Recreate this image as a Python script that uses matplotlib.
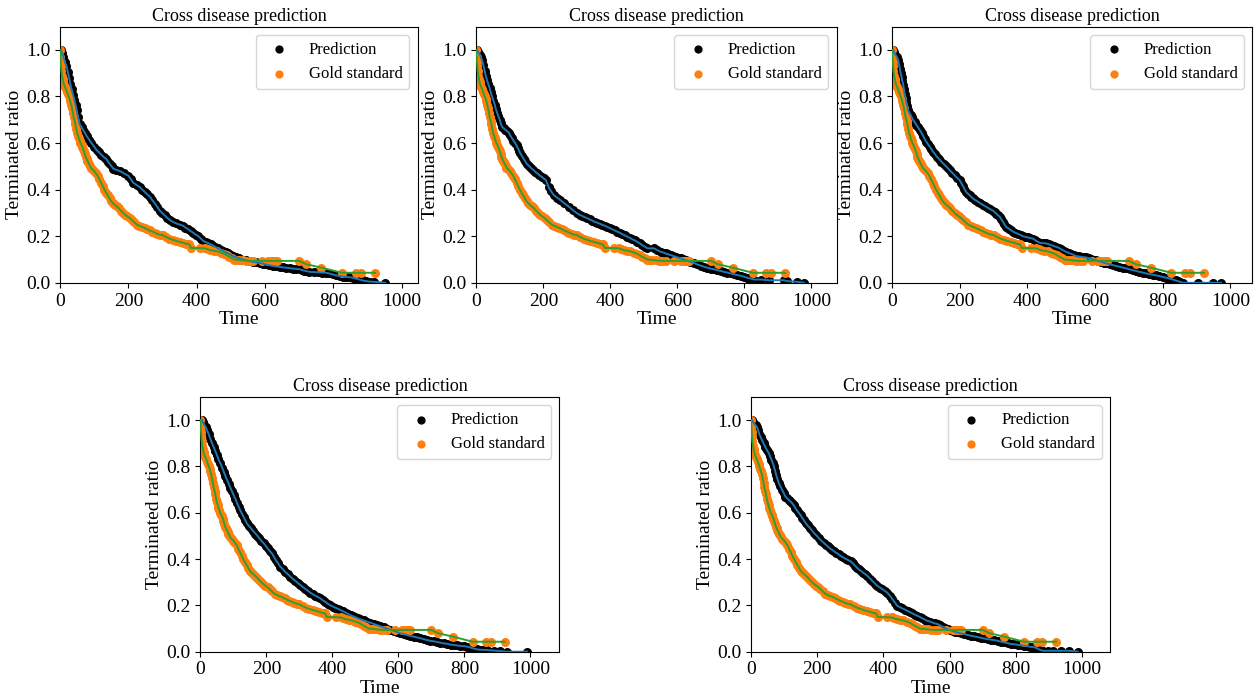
import matplotlib
matplotlib.use("Agg")
import matplotlib.pyplot as plt

plt.rcParams['font.family'] = ['Liberation Serif', 'DejaVu Serif']
plt.rcParams['font.size'] = 13

# gold standard curve (same for every held-out run)
gold_t = [0, 1, 2, 3, 4, 6, 8, 10, 12, 15, 18, 20, 23, 25, 28, 30, 33, 35, 38, 40, 43,
          45, 48, 50, 53, 55, 58, 60, 63, 65, 68, 70, 73, 75, 78, 80, 83, 85, 88, 90,
          95, 100, 105, 110, 115, 120, 125, 130, 135, 140, 145, 150, 155, 160, 166, 172,
          178, 185, 191, 197, 204, 210, 217, 225, 232, 240, 248, 255, 262, 270, 278,
          285, 292, 300, 310, 320, 330, 340, 350, 360, 369, 378, 383, 410, 425, 433,
          440, 450, 460, 470, 480, 488, 495, 503, 510, 518, 525, 535, 545, 555, 565,
          590, 610, 620, 625, 630, 635, 700, 720, 765, 825, 865, 880, 922]
gold_y = [1.0, 0.97, 0.95, 0.93, 0.91, 0.89, 0.875, 0.86, 0.85, 0.84, 0.83, 0.82, 0.81,
          0.80, 0.79, 0.78, 0.765, 0.75, 0.73, 0.71, 0.695, 0.68, 0.66, 0.645, 0.632,
          0.62, 0.61, 0.60, 0.592, 0.585, 0.575, 0.565, 0.552, 0.54, 0.532, 0.525,
          0.517, 0.51, 0.502, 0.495, 0.487, 0.48, 0.47, 0.46, 0.445, 0.43, 0.415, 0.40,
          0.387, 0.375, 0.362, 0.35, 0.342, 0.335, 0.328, 0.32, 0.31, 0.30, 0.292,
          0.285, 0.278, 0.27, 0.26, 0.25, 0.245, 0.24, 0.235, 0.23, 0.225, 0.22, 0.215,
          0.21, 0.207, 0.205, 0.197, 0.19, 0.185, 0.18, 0.176, 0.172, 0.168, 0.165,
          0.15, 0.149, 0.148, 0.144, 0.14, 0.138, 0.135, 0.13, 0.125, 0.118, 0.112,
          0.106, 0.10, 0.099, 0.098, 0.096, 0.095, 0.094, 0.094, 0.094, 0.094, 0.094,
          0.094, 0.094, 0.094, 0.094, 0.08, 0.065, 0.043, 0.043, 0.043, 0.043]

# predicted curves, one per run
pred_t1 = [3, 6, 10, 14, 19, 23, 27, 30, 34, 38, 42, 46, 49, 53, 58, 63, 68, 73, 78, 85,
           92, 100, 107, 114, 121, 128, 136, 141, 146, 151, 156, 165, 175, 187, 200, 207,
           214, 224, 234, 241, 248, 255, 263, 270, 278, 285, 292, 299, 306, 313, 321,
           330, 340, 350, 360, 367, 375, 382, 390, 397, 405, 412, 419, 426, 434, 441,
           448, 455, 462, 470, 477, 485, 492, 499, 506, 515, 525, 535, 545, 555, 565,
           575, 584, 594, 603, 613, 623, 633, 643, 652, 662, 672, 682, 691, 701, 708,
           715, 722, 730, 743, 755, 767, 779, 788, 798, 808, 818, 828, 838, 847, 857,
           866, 876, 886, 896, 908, 920, 952]
pred_y1 = [1.0, 0.985, 0.97, 0.95, 0.93, 0.905, 0.88, 0.855, 0.83, 0.808, 0.785, 0.762,
           0.74, 0.71, 0.68, 0.668, 0.655, 0.643, 0.63, 0.615, 0.60, 0.585, 0.57, 0.56,
           0.55, 0.54, 0.53, 0.52, 0.51, 0.50, 0.49, 0.485, 0.48, 0.47, 0.46, 0.445,
           0.43, 0.42, 0.41, 0.40, 0.39, 0.38, 0.37, 0.355, 0.34, 0.325, 0.31, 0.30,
           0.29, 0.28, 0.27, 0.262, 0.255, 0.25, 0.245, 0.237, 0.23, 0.222, 0.215,
           0.207, 0.20, 0.19, 0.18, 0.175, 0.17, 0.165, 0.16, 0.154, 0.148, 0.142,
           0.137, 0.131, 0.126, 0.12, 0.115, 0.11, 0.105, 0.1, 0.096, 0.093, 0.09,
           0.088, 0.086, 0.082, 0.079, 0.075, 0.072, 0.07, 0.068, 0.066, 0.065, 0.063,
           0.061, 0.06, 0.058, 0.055, 0.052, 0.05, 0.047, 0.046, 0.045, 0.044, 0.043,
           0.04, 0.036, 0.032, 0.029, 0.027, 0.025, 0.024, 0.022, 0.018, 0.014, 0.01,
           0.007, 0.005, 0.004, 0.0]

pred_t2 = [2, 6, 10, 13, 17, 21, 25, 28, 32, 36, 40, 43, 47, 51, 55, 58, 62, 66, 70, 73,
           77, 82, 87, 92, 97, 101, 106, 111, 116, 120, 124, 128, 131, 136, 141, 146,
           151, 157, 163, 170, 176, 182, 188, 195, 201, 208, 216, 223, 231, 241, 251,
           263, 276, 288, 301, 308, 316, 323, 331, 338, 346, 353, 361, 368, 376, 383,
           391, 398, 405, 413, 420, 428, 435, 443, 450, 458, 465, 473, 480, 488, 495,
           503, 510, 530, 540, 550, 558, 565, 573, 580, 588, 595, 603, 610, 618, 625,
           632, 639, 649, 659, 669, 679, 689, 699, 709, 719, 729, 739, 749, 759, 769,
           779, 789, 799, 807, 814, 822, 829, 849, 873, 918, 928, 958, 978]
pred_y2 = [1.0, 0.99, 0.98, 0.97, 0.957, 0.935, 0.91, 0.89, 0.87, 0.852, 0.835, 0.818,
           0.80, 0.782, 0.765, 0.748, 0.73, 0.715, 0.70, 0.685, 0.67, 0.663, 0.657,
           0.651, 0.645, 0.633, 0.622, 0.61, 0.60, 0.59, 0.578, 0.567, 0.556, 0.545,
           0.533, 0.522, 0.51, 0.502, 0.493, 0.485, 0.477, 0.47, 0.462, 0.455, 0.448,
           0.44, 0.41, 0.393, 0.377, 0.366, 0.355, 0.341, 0.327, 0.312, 0.298, 0.292,
           0.287, 0.282, 0.277, 0.272, 0.267, 0.262, 0.258, 0.254, 0.249, 0.245, 0.24,
           0.235, 0.23, 0.225, 0.22, 0.215, 0.209, 0.204, 0.198, 0.193, 0.187, 0.182,
           0.176, 0.169, 0.162, 0.155, 0.148, 0.148, 0.14, 0.133, 0.13, 0.126, 0.122,
           0.119, 0.115, 0.112, 0.108, 0.105, 0.101, 0.097, 0.094, 0.09, 0.085, 0.079,
           0.074, 0.069, 0.065, 0.061, 0.058, 0.054, 0.051, 0.047, 0.044, 0.04, 0.037,
           0.033, 0.03, 0.026, 0.022, 0.02, 0.017, 0.014, 0.014, 0.011, 0.011, 0.007,
           0.004, 0.0]

pred_t3 = [3, 6, 10, 14, 18, 20, 23, 25, 28, 30, 33, 35, 37, 40, 42, 45, 47, 51, 55, 58,
           62, 67, 72, 77, 82, 87, 92, 96, 101, 106, 111, 116, 121, 127, 133, 140, 146,
           152, 158, 164, 170, 177, 185, 192, 200, 205, 210, 214, 219, 224, 229, 234,
           239, 246, 254, 261, 269, 276, 283, 290, 298, 303, 308, 313, 318, 323, 328,
           332, 337, 342, 347, 352, 357, 364, 372, 380, 387, 394, 401, 408, 416, 421,
           426, 431, 436, 446, 456, 463, 470, 478, 485, 493, 500, 507, 515, 522, 530,
           537, 544, 552, 559, 566, 573, 581, 588, 595, 603, 610, 618, 625, 633, 643,
           652, 662, 672, 682, 692, 702, 712, 721, 731, 741, 751, 760, 770, 780, 790,
           800, 810, 820, 830, 838, 845, 852, 859, 903, 948, 972]
pred_y3 = [1.0, 0.99, 0.98, 0.97, 0.957, 0.94, 0.92, 0.90, 0.885, 0.868, 0.85, 0.83,
           0.81, 0.793, 0.775, 0.758, 0.74, 0.73, 0.72, 0.71, 0.70, 0.689, 0.678, 0.667,
           0.656, 0.643, 0.63, 0.618, 0.606, 0.595, 0.585, 0.574, 0.563, 0.552, 0.54,
           0.53, 0.52, 0.511, 0.502, 0.493, 0.484, 0.473, 0.462, 0.451, 0.44, 0.427,
           0.415, 0.402, 0.39, 0.383, 0.376, 0.369, 0.362, 0.355, 0.348, 0.341, 0.334,
           0.328, 0.322, 0.316, 0.31, 0.303, 0.297, 0.29, 0.284, 0.273, 0.262, 0.251,
           0.24, 0.235, 0.23, 0.225, 0.22, 0.215, 0.21, 0.205, 0.20, 0.197, 0.195,
           0.192, 0.19, 0.185, 0.18, 0.176, 0.172, 0.17, 0.169, 0.165, 0.162, 0.158,
           0.155, 0.15, 0.144, 0.138, 0.133, 0.128, 0.124, 0.119, 0.115, 0.113, 0.112,
           0.11, 0.109, 0.106, 0.103, 0.1, 0.097, 0.093, 0.09, 0.087, 0.083, 0.08,
           0.076, 0.072, 0.069, 0.065, 0.062, 0.058, 0.054, 0.051, 0.047, 0.044, 0.04,
           0.038, 0.035, 0.032, 0.029, 0.025, 0.022, 0.018, 0.014, 0.01, 0.007, 0.004,
           0.0, 0.0, 0.0, 0.0]

pred_t4 = [5, 8, 12, 16, 20, 25, 30, 35, 40, 45, 50, 55, 61, 66, 71, 76, 81, 86, 91, 96,
           101, 106, 111, 116, 121, 126, 131, 136, 141, 147, 154, 160, 167, 173, 179,
           185, 192, 198, 204, 210, 217, 223, 229, 236, 242, 250, 257, 265, 273, 280,
           288, 295, 303, 310, 318, 326, 333, 341, 348, 356, 364, 371, 379, 386, 394,
           401, 409, 417, 424, 432, 440, 447, 455, 462, 470, 477, 485, 495, 505, 515,
           525, 535, 545, 555, 566, 576, 586, 596, 606, 616, 626, 636, 646, 656, 667,
           677, 687, 697, 707, 717, 727, 737, 748, 758, 768, 778, 788, 798, 808, 816,
           823, 830, 838, 846, 853, 861, 869, 889, 909, 929, 990]
pred_y4 = [1.0, 0.99, 0.98, 0.97, 0.957, 0.94, 0.92, 0.902, 0.885, 0.868, 0.85, 0.83,
           0.813, 0.795, 0.777, 0.759, 0.741, 0.725, 0.708, 0.692, 0.676, 0.66, 0.643,
           0.626, 0.61, 0.596, 0.582, 0.568, 0.554, 0.543, 0.532, 0.521, 0.51, 0.50,
           0.489, 0.478, 0.468, 0.457, 0.446, 0.435, 0.424, 0.41, 0.395, 0.381, 0.367,
           0.356, 0.345, 0.335, 0.324, 0.315, 0.306, 0.297, 0.288, 0.28, 0.271, 0.263,
           0.255, 0.248, 0.242, 0.236, 0.23, 0.222, 0.215, 0.207, 0.20, 0.195, 0.19,
           0.185, 0.18, 0.175, 0.169, 0.163, 0.158, 0.153, 0.149, 0.144, 0.14, 0.135,
           0.13, 0.125, 0.12, 0.115, 0.11, 0.105, 0.10, 0.095, 0.09, 0.085, 0.079,
           0.076, 0.072, 0.068, 0.065, 0.062, 0.058, 0.054, 0.05, 0.047, 0.045, 0.042,
           0.039, 0.036, 0.034, 0.031, 0.029, 0.027, 0.025, 0.024, 0.022, 0.019, 0.016,
           0.013, 0.01, 0.009, 0.008, 0.008, 0.007, 0.005, 0.003, 0.0, 0.0]

pred_t5 = [3, 7, 10, 14, 18, 22, 25, 29, 33, 38, 43, 48, 54, 58, 62, 66, 69, 73, 76, 80,
           84, 89, 94, 99, 104, 109, 114, 119, 124, 129, 134, 139, 144, 150, 155, 160,
           165, 171, 178, 184, 190, 198, 205, 212, 220, 226, 232, 238, 245, 251, 258,
           265, 271, 279, 286, 294, 301, 308, 314, 320, 326, 333, 339, 346, 352, 360,
           367, 375, 382, 390, 397, 405, 412, 420, 427, 435, 442, 450, 457, 465, 473,
           480, 488, 495, 503, 510, 518, 525, 533, 541, 548, 556, 564, 571, 579, 586,
           594, 601, 609, 616, 624, 634, 645, 655, 665, 675, 685, 695, 705, 715, 725,
           735, 745, 756, 766, 776, 786, 796, 806, 816, 826, 834, 842, 850, 857, 864,
           870, 876, 882, 897, 912, 937, 962, 988]
pred_y5 = [1.0, 0.99, 0.985, 0.978, 0.97, 0.955, 0.94, 0.927, 0.914, 0.9, 0.885, 0.871,
           0.857, 0.843, 0.828, 0.814, 0.80, 0.782, 0.764, 0.746, 0.728, 0.714, 0.70,
           0.685, 0.67, 0.663, 0.656, 0.649, 0.642, 0.632, 0.621, 0.61, 0.60, 0.589,
           0.578, 0.567, 0.556, 0.545, 0.535, 0.524, 0.513, 0.502, 0.49, 0.48, 0.47,
           0.462, 0.455, 0.447, 0.44, 0.433, 0.427, 0.42, 0.413, 0.407, 0.401, 0.395,
           0.39, 0.381, 0.372, 0.363, 0.355, 0.348, 0.341, 0.334, 0.327, 0.316, 0.305,
           0.294, 0.284, 0.277, 0.27, 0.262, 0.255, 0.241, 0.227, 0.212, 0.198, 0.192,
           0.187, 0.182, 0.176, 0.171, 0.165, 0.16, 0.155, 0.15, 0.144, 0.139, 0.133,
           0.13, 0.126, 0.122, 0.119, 0.114, 0.108, 0.102, 0.097, 0.093, 0.09, 0.086,
           0.083, 0.079, 0.076, 0.072, 0.069, 0.066, 0.063, 0.06, 0.057, 0.054, 0.052,
           0.05, 0.047, 0.043, 0.04, 0.037, 0.033, 0.032, 0.03, 0.028, 0.026, 0.024,
           0.022, 0.02, 0.019, 0.015, 0.01, 0.007, 0.004, 0.004, 0.004, 0.004, 0.004,
           0.0]

runs = [(pred_t1, pred_y1), (pred_t2, pred_y2), (pred_t3, pred_y3),
        (pred_t4, pred_y4), (pred_t5, pred_y5)]
x_right = [1047, 1075, 1065, 1088, 1085]

# axes boxes in figure fraction: 3 on top, 2 centred below
boxes = [[0.0476, 0.596, 0.284, 0.366],
         [0.378, 0.596, 0.286, 0.366],
         [0.708, 0.596, 0.286, 0.366],
         [0.159, 0.069, 0.285, 0.364],
         [0.596, 0.069, 0.285, 0.364]]

fig = plt.figure(figsize=(12.6, 7), dpi=100)

for (pt, py), box, xr in zip(runs, boxes, x_right):
    ax = fig.add_axes(box)
    ax.scatter(pt, py, s=30, color='black', label='Prediction', zorder=2)
    ax.scatter(gold_t, gold_y, s=30, color='#ff7f0e', label='Gold standard', zorder=2)
    ax.plot(pt, py, color='#1f77b4', lw=1.4, zorder=3)
    ax.plot(gold_t, gold_y, color='#2ca02c', lw=1.4, zorder=3)
    ax.set_xlim(0, xr)
    ax.set_ylim(0, 1.1)
    ax.set_xticks([0, 200, 400, 600, 800, 1000])
    ax.set_yticks([0.0, 0.2, 0.4, 0.6, 0.8, 1.0])
    ax.set_title('Cross disease prediction', fontsize=13, pad=4)
    ax.set_xlabel('Time', fontsize=14, labelpad=1)
    ax.set_ylabel('Terminated ratio', fontsize=14, labelpad=2)
    ax.tick_params(labelsize=14)
    ax.legend(loc='upper right', fontsize=12, markerscale=0.9)

fig.savefig('out.png', dpi=100)
